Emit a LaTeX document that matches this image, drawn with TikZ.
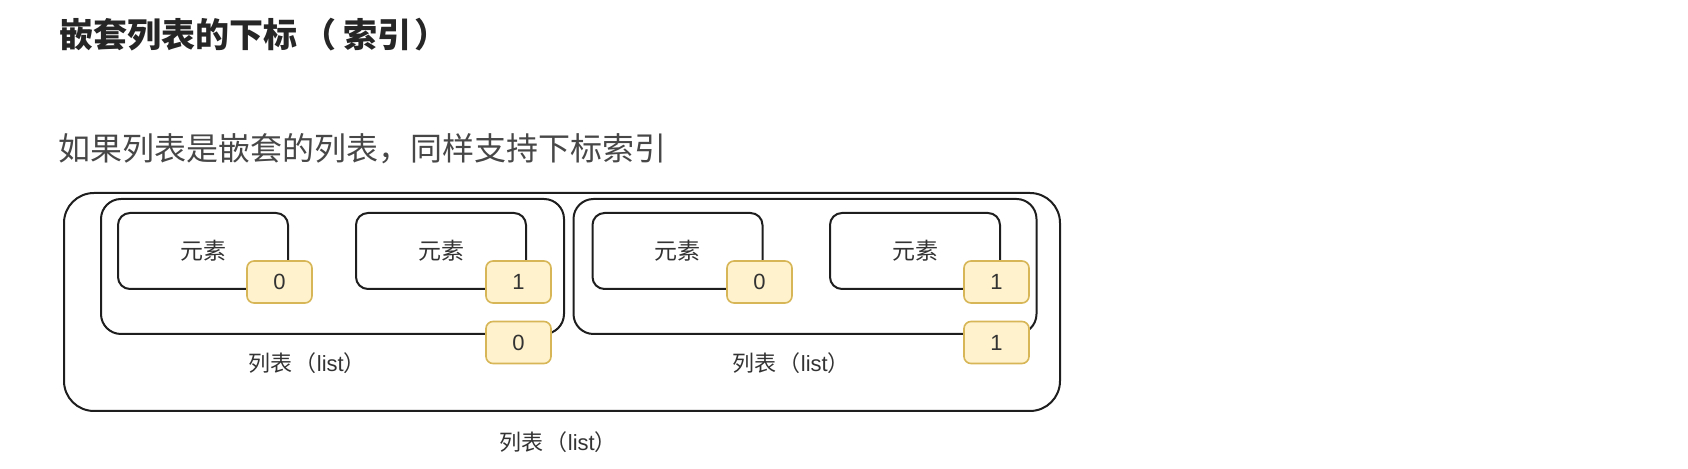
\documentclass[tikz,border=0pt]{standalone}
\usepackage{fontspec}
\setmainfont{Liberation Sans}
\newfontfamily\cjk{Noto Sans CJK SC}
\usepackage{xcolor}
\usepackage{tikz}
\usetikzlibrary{positioning}

\definecolor{idxfill}{HTML}{FFF2CC}
\definecolor{idxline}{HTML}{D6B656}
\definecolor{txt}{HTML}{333333}
\definecolor{frame}{HTML}{1E1E1E}

\newcommand{\listlbl}{{\cjk 列表\hspace{0.12em}（}list{\cjk ）}}

\begin{document}
\begin{tikzpicture}[
    x=0.5pt, y=-0.5pt,
    outerbox/.style={draw=frame, line width=1pt, rounded corners=15pt, minimum width=498pt, minimum height=109pt},
    listbox/.style={draw=frame, line width=1pt, rounded corners=10pt, minimum width=231.5pt, minimum height=67.5pt},
    elembox/.style={draw=frame, line width=1pt, rounded corners=6pt, minimum width=85pt, minimum height=38pt, font=\cjk\fontsize{11.5}{12}\selectfont, text=txt},
    idx/.style={draw=idxline, fill=idxfill, line width=0.8pt, rounded corners=3.5pt, minimum width=32.5pt, minimum height=21pt, inner sep=0pt, font=\fontsize{11}{12}\selectfont, text=txt},
    lbl/.style={font=\fontsize{11}{12}\selectfont, text=txt}
]
    \useasboundingbox (0,0) rectangle (1688,469);

    % Heading and intro line
    \node[anchor=west, font=\cjk\bfseries\fontsize{17}{18}\selectfont, text=black!85, inner sep=0pt] (title) at (59,35) {嵌套列表的下标\hspace{0.15em}（\hspace{0.2em}索引\hspace{0.1em}）};
    \node[anchor=west, font=\cjk\fontsize{16}{17}\selectfont, text=black!72, inner sep=0pt] (intro) at (58,149) {如果列表是嵌套的列表，同样支持下标索引};

    % Outer list
    \node[outerbox] (outer) at (562,302) {};
    \node[lbl] (outerlbl) at (558,442) {\listlbl};

    % Inner lists
    \node[listbox] (listA) at (332.5,266.5) {};
    \node[listbox] (listB) at (805,266.5) {};
    \node[lbl] (listAlbl) at (307,363) {\listlbl};
    \node[lbl] (listBlbl) at (791,363) {\listlbl};

    % Elements
    \node[elembox] (elemA0) at (203,251) {元素};
    \node[elembox] (elemA1) at (441,251) {元素};
    \node[elembox] (elemB0) at (677.5,251) {元素};
    \node[elembox] (elemB1) at (915,251) {元素};

    % Index tags
    \node[idx] (idxA0) at (279.5,282) {0};
    \node[idx] (idxA1) at (518.5,282) {1};
    \node[idx] (idxB0) at (759.5,282) {0};
    \node[idx] (idxB1) at (996.5,282) {1};
    \node[idx] (idxA) at (518.5,342.5) {0};
    \node[idx] (idxB) at (996.5,342.5) {1};
\end{tikzpicture}
\end{document}
